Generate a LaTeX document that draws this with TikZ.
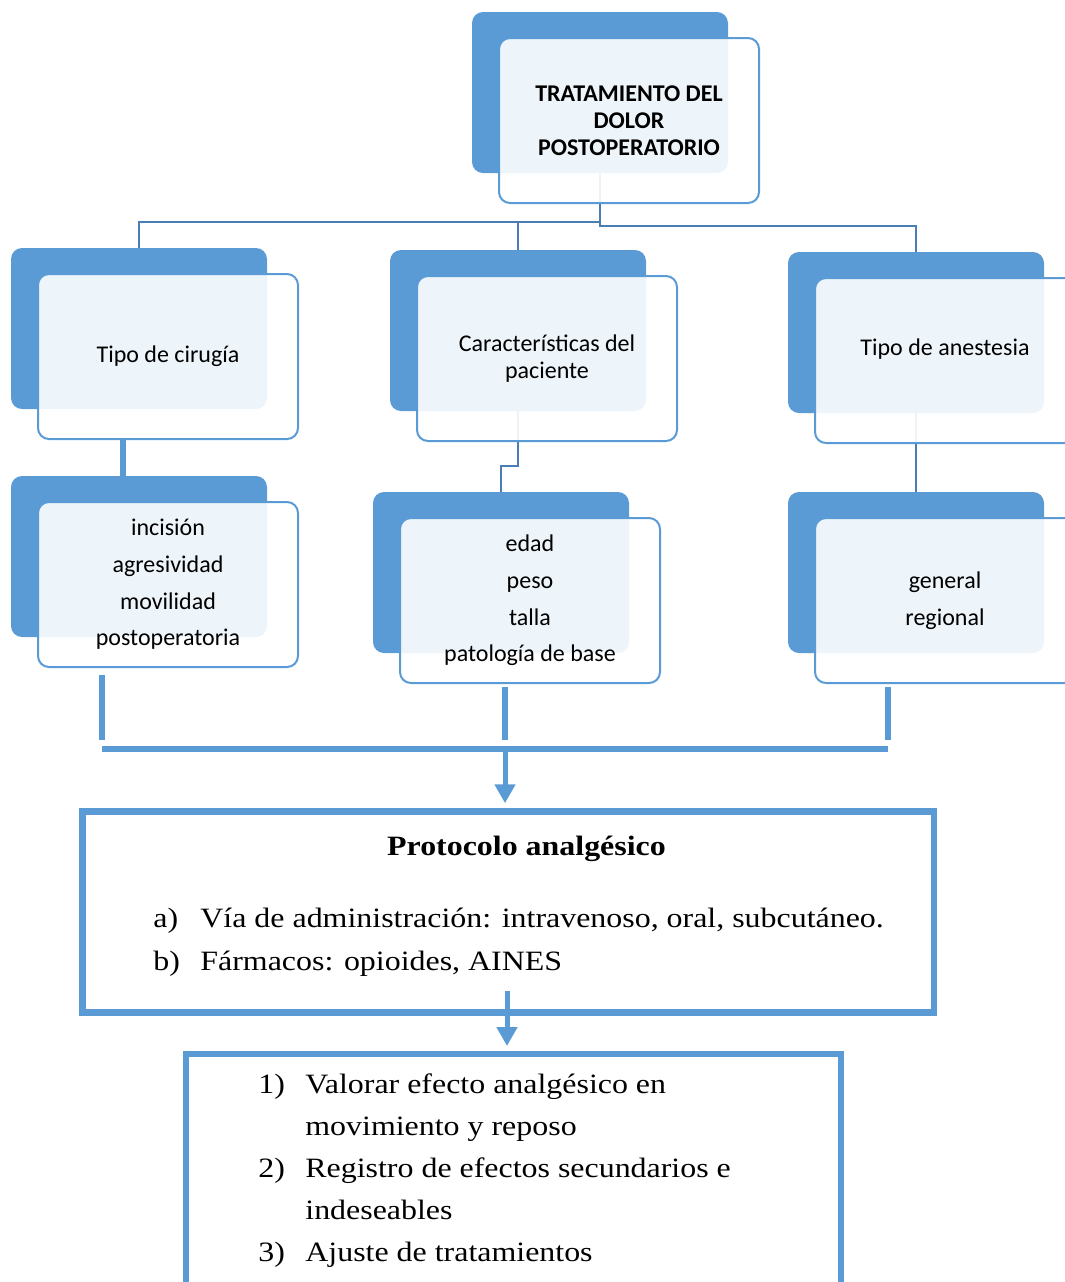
\documentclass[tikz,border=0pt]{standalone}
\usepackage{fontspec}
\usepackage{tikz}
\usetikzlibrary{arrows.meta, calc}
\newfontfamily\calib{Carlito}
\newfontfamily\timesw{Liberation Serif}[FakeStretch=1.14]
\definecolor{smartblue}{HTML}{5B9BD5}
\definecolor{linkblue}{HTML}{4A7DB4}

\begin{document}
\begin{tikzpicture}[x=0.5pt, y=-0.5pt,
    backbox/.style={fill=smartblue, draw=none, rounded corners=5.5pt,
                    minimum width=128pt, minimum height=80.5pt, inner sep=0pt},
    frontbox/.style={draw=smartblue, line width=1pt, fill=white, fill opacity=0.9,
                     text opacity=1, rounded corners=5.5pt, minimum width=130pt,
                     minimum height=82.5pt, inner sep=0pt, align=center,
                     font=\calib\fontsize{12}{13.5}\selectfont},
    listbox/.style={frontbox, font=\calib\fontsize{12}{18.3}\selectfont},
    conn/.style={draw=linkblue, line width=1pt},
    feed/.style={draw=smartblue, line width=3pt},
    flow/.style={feed, line width=2.5pt, -{Triangle[length=9.5pt, width=10pt]}, shorten >=2.5pt},
    panel/.style={draw=smartblue, line width=3.25pt, inner sep=0pt},
    proto/.style={font=\timesw\fontsize{14}{21}\selectfont, anchor=base west, inner sep=0pt},
]
    \useasboundingbox (0,0) rectangle (1065,1282);
    \clip (0,0) rectangle (1065,1282);

    % Back boxes
    \node[backbox] (rootb) at (600,92.5) {};
    \node[backbox] (cirb) at (139,328.5) {};
    \node[backbox] (pacb) at (518,330.5) {};
    \node[backbox] (aneb) at (916,332.5) {};
    \node[backbox] (cirb2) at (139,556.5) {};
    \node[backbox] (pacb2) at (501,572.5) {};
    \node[backbox] (aneb2) at (916,572.5) {};

    % Tree connectors
    \draw[conn] (rootb.south) -- ++(0,49) -| (cirb.north);
    \draw[conn] (rootb.south) -- ++(0,49) -| (pacb.north);
    \draw[conn] (rootb.south) -- ++(0,53) -| (aneb.north);
    \draw[conn] (pacb.south) -- ++(0,55) -| (pacb2.north);
    \draw[conn] (aneb.south) -- (aneb2.north);

    % Front boxes
    \node[frontbox] (rootf) at (629,120.5) {\bfseries TRATAMIENTO DEL\\\bfseries DOLOR\\\bfseries POSTOPERATORIO};
    \node[frontbox] (cirf) at (168,356.5) {Tipo de cirugía};
    \node[frontbox] (pacf) at (547,358.5) {Características del\\paciente};
    \node[frontbox] (anef) at (945,360.5) {Tipo de anestesia\\\mbox{}};
    \node[listbox] (cirf2) at (168,584.5) {incisión\\agresividad\\movilidad\\postoperatoria};
    \node[listbox] (pacf2) at (530,600.5) {edad\\peso\\talla\\patología de base};
    \node[listbox] (anef2) at (945,600.5) {general\\regional};

    \draw[feed] ($(cirf.south)+(-45,0)$) -- ($(cirb2.north)+(-16,0)$);

    % Gathering lines
    \coordinate (tL) at (102,740);
    \coordinate (tM) at (505,740);
    \coordinate (tR) at (888,740);
    \coordinate (bL) at (102,749);
    \coordinate (bR) at (888,749);
    \draw[feed] ($(cirf2.south)+(-66,7)$) -- (tL);
    \draw[feed] ($(pacf2.south)+(-25,3)$) -- (tM);
    \draw[feed] ($(anef2.south)+(-57,3)$) -- (tR);
    \draw[feed] (bL) -- (bR);

    % Protocol
    \node[panel, minimum width=425.75pt, minimum height=100.5pt] (panel) at (508.25,912) {};
    \draw[flow] (tM |- bL) -- (tM |- panel.north);
    \node[proto, anchor=base, font=\timesw\bfseries\fontsize{14}{21}\selectfont] (ptitle) at (526.5,855) {Protocolo analgésico};
    \node[proto] (pa) at (153,927) {a)};
    \node[proto] (pat) at (200,927) {Vía de administración: intravenoso, oral, subcutáneo.};
    \node[proto] (pb) at (153,970) {b)};
    \node[proto] (pbt) at (200,970) {Fármacos: opioides, AINES};

    % Follow-up
    \node[panel, line width=3pt, minimum width=327.75pt, minimum height=150pt, anchor=north] (steps) at (513.25,1051) {};
    \coordinate (flowtop) at (507,991);
    \draw[flow] (flowtop) -- (flowtop |- steps.north);
    \node[proto] (s1) at (258,1093) {1)};
    \node[proto] (s1a) at (305,1093) {Valorar efecto analgésico en};
    \node[proto] (s1b) at (305,1135) {movimiento y reposo};
    \node[proto] (s2) at (258,1177) {2)};
    \node[proto] (s2a) at (305,1177) {Registro de efectos secundarios e};
    \node[proto] (s2b) at (305,1219) {indeseables};
    \node[proto] (s3) at (258,1261) {3)};
    \node[proto] (s3a) at (305,1261) {Ajuste de tratamientos};
\end{tikzpicture}
\end{document}
